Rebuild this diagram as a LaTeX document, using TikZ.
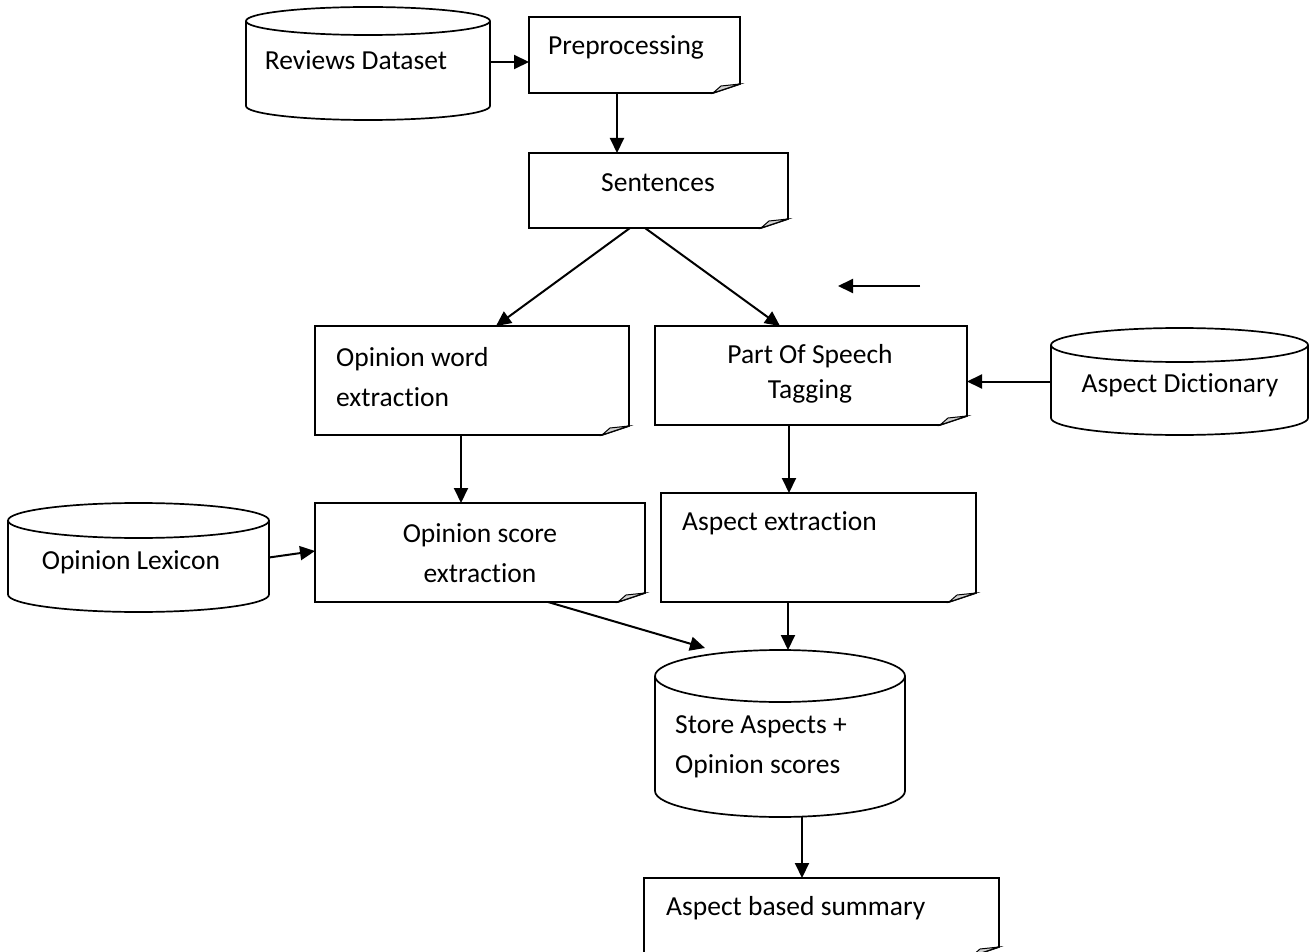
\documentclass[tikz,border=0pt]{standalone}
\usepackage{fontspec}
\setmainfont[Ligatures={NoCommon}]{Carlito}
\usetikzlibrary{arrows.meta}
\tikzset{
  shp/.style={rectangle,draw=none,inner sep=0pt,outer sep=0pt},
  txt/.style={inner sep=0pt,font=\fontsize{27.5}{40}\selectfont},
  arr/.style={line width=2pt,-{Triangle[length=15pt,width=14pt]}},
  outl/.style={line width=1.7pt},
  fold/.style={line width=1pt,fill=gray!35}
}
\newcommand\docout[1]{%
  \draw[outl] (#1.north west) -- (#1.north east) -- ([yshift=9pt]#1.south east)
    -- ([xshift=-27pt]#1.south east) -- (#1.south west) -- cycle;
  \filldraw[fold] ([xshift=-27pt]#1.south east) -- ([xshift=-19pt,yshift=7pt]#1.south east)
    -- ([yshift=9pt]#1.south east) -- cycle;}
\newcommand\cylout[3]{%
  \draw[outl] ([yshift=-#3]#1.north west) -- ([yshift=#3]#1.south west)
    arc[start angle=180,end angle=360,x radius=#2,y radius=#3]
    -- ([yshift=-#3]#1.north east)
    arc[start angle=0,end angle=180,x radius=#2,y radius=#3] -- cycle;
  \draw[outl] ([yshift=-#3]#1.north west)
    arc[start angle=180,end angle=360,x radius=#2,y radius=#3];}
\begin{document}
\begin{tikzpicture}[x=1pt,y=-1pt]
\useasboundingbox (0,0) rectangle (1310,952);
% shapes
\node[shp,minimum width=244pt,minimum height=113pt] (rev) at (368,63.5) {};
\node[shp,minimum width=211pt,minimum height=76pt] (pre) at (634.5,55) {};
\node[shp,minimum width=259pt,minimum height=75pt] (sent) at (658.5,190.5) {};
\node[shp,minimum width=314pt,minimum height=109pt] (ow) at (472,380.5) {};
\node[shp,minimum width=312pt,minimum height=99pt] (pos) at (811,375.5) {};
\node[shp,minimum width=257pt,minimum height=107pt] (dict) at (1179.5,381.5) {};
\node[shp,minimum width=330pt,minimum height=99pt] (os) at (480,552.5) {};
\node[shp,minimum width=315pt,minimum height=109pt] (ae) at (818.5,547.5) {};
\node[shp,minimum width=261pt,minimum height=109pt] (lex) at (138.5,557.5) {};
\node[shp,minimum width=250pt,minimum height=167pt] (store) at (780,733.5) {};
\node[shp,minimum width=355pt,minimum height=78pt] (sum) at (821.5,917) {};
\cylout{rev}{122pt}{14pt}
\docout{pre}
\docout{sent}
\docout{ow}
\docout{pos}
\cylout{dict}{128.5pt}{17pt}
\docout{os}
\docout{ae}
\cylout{lex}{130.5pt}{17.5pt}
\cylout{store}{125pt}{26pt}
\docout{sum}
% texts
\node[txt] (revt) at (356,60) {Reviews Dataset};
\node[txt] (pret) at (626,47) {Preprocessing};
\node[txt] (sentt) at (658,183) {Sentences};
\node[txt,anchor=west,align=left] (owt) at (336,377) {Opinion word\\extraction};
\node[txt,align=center,font=\fontsize{27.5}{35}\selectfont] (post) at (810,374) {Part Of Speech\\Tagging};
\node[txt] (dictt) at (1180,385) {Aspect Dictionary};
\node[txt,align=center] (ost) at (480,553) {Opinion score\\extraction};
\node[txt,anchor=west] (aet) at (682,523) {Aspect extraction};
\node[txt] (lext) at (131,562) {Opinion Lexicon};
\node[txt,anchor=west,align=left] (storet) at (675,747) {Store Aspects +\\Opinion scores};
\node[txt,anchor=west] (sumt) at (666,908) {Aspect based summary};
% stray arrow
\coordinate (sa) at (920,286);
\coordinate (sb) at (838,286);
% connectors
\draw[arr] ([yshift=1.5pt]rev.east) -- ([yshift=-7pt]pre.west);
\draw[arr] ([xshift=-17.5pt]pre.south) -- ([xshift=-17.5pt]pre.south |- sent.north);
\draw[arr] ([xshift=-28.5pt]sent.south) -- ([xshift=24pt]ow.north);
\draw[arr] ([xshift=-13.5pt]sent.south) -- ([xshift=-31pt]pos.north);
\draw[arr] (sa) -- (sb);
\draw[arr] (dict.west) -- (dict.west -| pos.east);
\draw[arr] ([xshift=-11pt]ow.south) -- ([xshift=-11pt]ow.south |- os.north);
\draw[arr] ([xshift=-22pt]pos.south) -- ([xshift=-22pt]pos.south |- ae.north);
\draw[arr] (lex.east) -- ([yshift=1.5pt]os.west);
\draw[arr] ([xshift=68pt]os.south) -- ([xshift=-75pt,yshift=2pt]store.north);
\draw[arr] ([xshift=-30.5pt]ae.south) -- ([xshift=-30.5pt]ae.south |- store.north);
\draw[arr] ([xshift=22pt]store.south) -- ([xshift=22pt]store.south |- sum.north);
\end{tikzpicture}
\end{document}
